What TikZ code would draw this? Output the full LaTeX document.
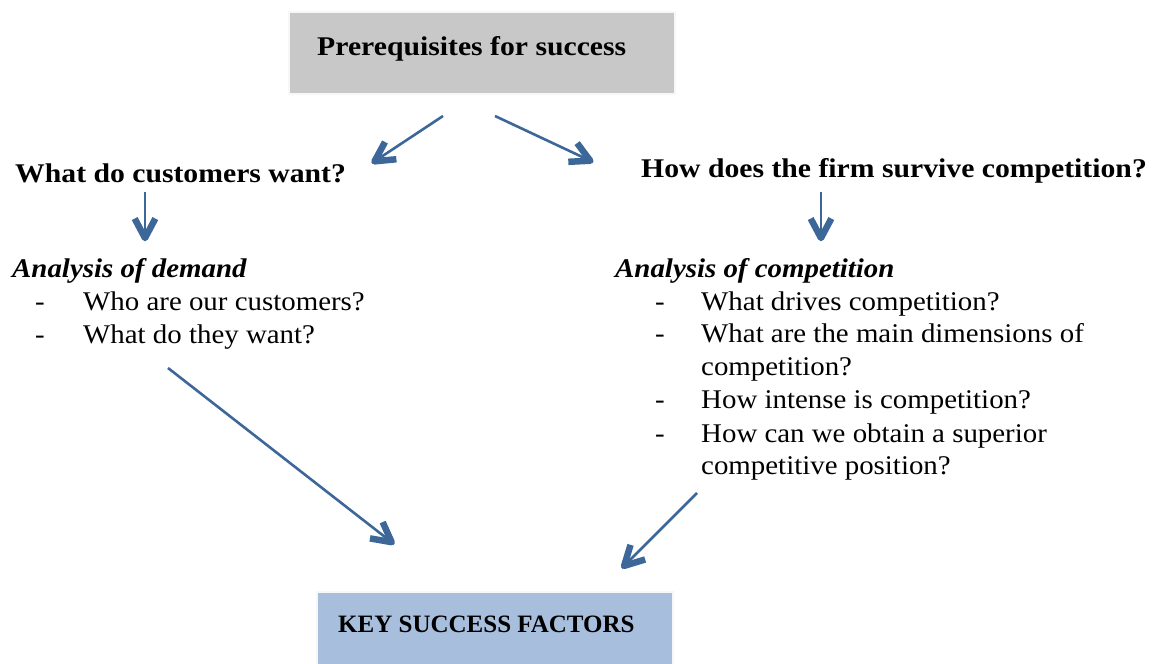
\documentclass[tikz,border=0pt]{standalone}
\usepackage{fontspec}
\setmainfont{Liberation Serif}
\newfontfamily\regf{Liberation Serif}[FakeStretch=1.07]
\newfontfamily\boldf{Liberation Serif}[FakeStretch=1.1]
\newfontfamily\bitf{Liberation Serif}[FakeStretch=1.07]
\usetikzlibrary{calc}
\definecolor{arrowblue}{HTML}{3C6798}
\definecolor{boxgray}{HTML}{C8C8C8}
\definecolor{boxblue}{HTML}{A7BEDC}
\tikzset{
  conn/.style={draw=arrowblue, line width=2.6pt},
  tipst/.style={draw=arrowblue, line width=6.5pt, line join=round, line cap=butt},
  txt/.style={anchor=base west, inner sep=0pt, font=\fontsize{27}{30}\regf\selectfont},
  bigtxt/.style={anchor=base west, inner sep=0pt, font=\fontsize{27}{30}\boldf\bfseries\selectfont},
  ittxt/.style={anchor=base west, inner sep=0pt, font=\fontsize{27}{30}\bitf\bfseries\itshape\selectfont},
}
% #1 start, #2 end of a connector: draws its open V head
\newcommand{\tipv}[2]{\draw[tipst] ($($(#2)!3pt!(#1)$)!22pt!28:(#1)$) -- ($(#2)!3pt!(#1)$) -- ($($(#2)!3pt!(#1)$)!22pt!-28:(#1)$);}
\begin{document}
\begin{tikzpicture}[x=1pt,y=-1pt]
\useasboundingbox (0,0) rectangle (1162,664);
% boxes
\fill[black!3] (288,11) rectangle (676,95);
\fill[boxgray] (290,13) rectangle (674,93);
\fill[black!3] (316,591) rectangle (674,664);
\fill[boxblue] (318,593) rectangle (672,664);
\node[bigtxt] (pre) at (317,55) {Prerequisites for success};
\node[anchor=base west, inner sep=0pt, font=\fontsize{25}{30}\selectfont\bfseries] (ksf) at (338,632) {KEY SUCCESS FACTORS};
% questions
\node[bigtxt] (qcust) at (15,182) {What do customers want?};
\node[bigtxt] (qcomp) at (641,177) {How does the firm survive competition?};
% left analysis
\node[ittxt] (ad) at (12,277) {Analysis of demand};
\node[txt] (d1) at (35,310) {-};
\node[txt] (l1) at (83,310) {Who are our customers?};
\node[txt] (d2) at (35,343) {-};
\node[txt] (l2) at (83,343) {What do they want?};
% right analysis
\node[ittxt] (ac) at (615,277) {Analysis of competition};
\node[txt] (e1) at (655,310) {-};
\node[txt] (r1) at (701,310) {What drives competition?};
\node[txt] (e2) at (655,342) {-};
\node[txt] (r2) at (701,342) {What are the main dimensions of};
\node[txt] (r2b) at (701,375) {competition?};
\node[txt] (e3) at (655,408) {-};
\node[txt] (r3) at (701,408) {How intense is competition?};
\node[txt] (e4) at (655,442) {-};
\node[txt] (r4) at (701,442) {How can we obtain a superior};
\node[txt] (r4b) at (701,474) {competitive position?};
% arrow endpoints
\coordinate (a1s) at (443,116); \coordinate (a1e) at (372,163);
\coordinate (a2s) at (495,116); \coordinate (a2e) at (593,162);
\coordinate (a3s) at (145,192); \coordinate (a3e) at (145,241);
\coordinate (a4s) at (821,192); \coordinate (a4e) at (821,241);
\coordinate (a5s) at (168,368); \coordinate (a5e) at (394,544);
\coordinate (a6s) at (697,493); \coordinate (a6e) at (622,568);
\draw[conn] (a1s) -- (a1e); \tipv{a1s}{a1e}
\draw[conn] (a2s) -- (a2e); \tipv{a2s}{a2e}
\draw[conn] (a3s) -- (a3e); \tipv{a3s}{a3e}
\draw[conn] (a4s) -- (a4e); \tipv{a4s}{a4e}
\draw[conn] (a5s) -- (a5e); \tipv{a5s}{a5e}
\draw[conn] (a6s) -- (a6e); \tipv{a6s}{a6e}
\end{tikzpicture}
\end{document}
